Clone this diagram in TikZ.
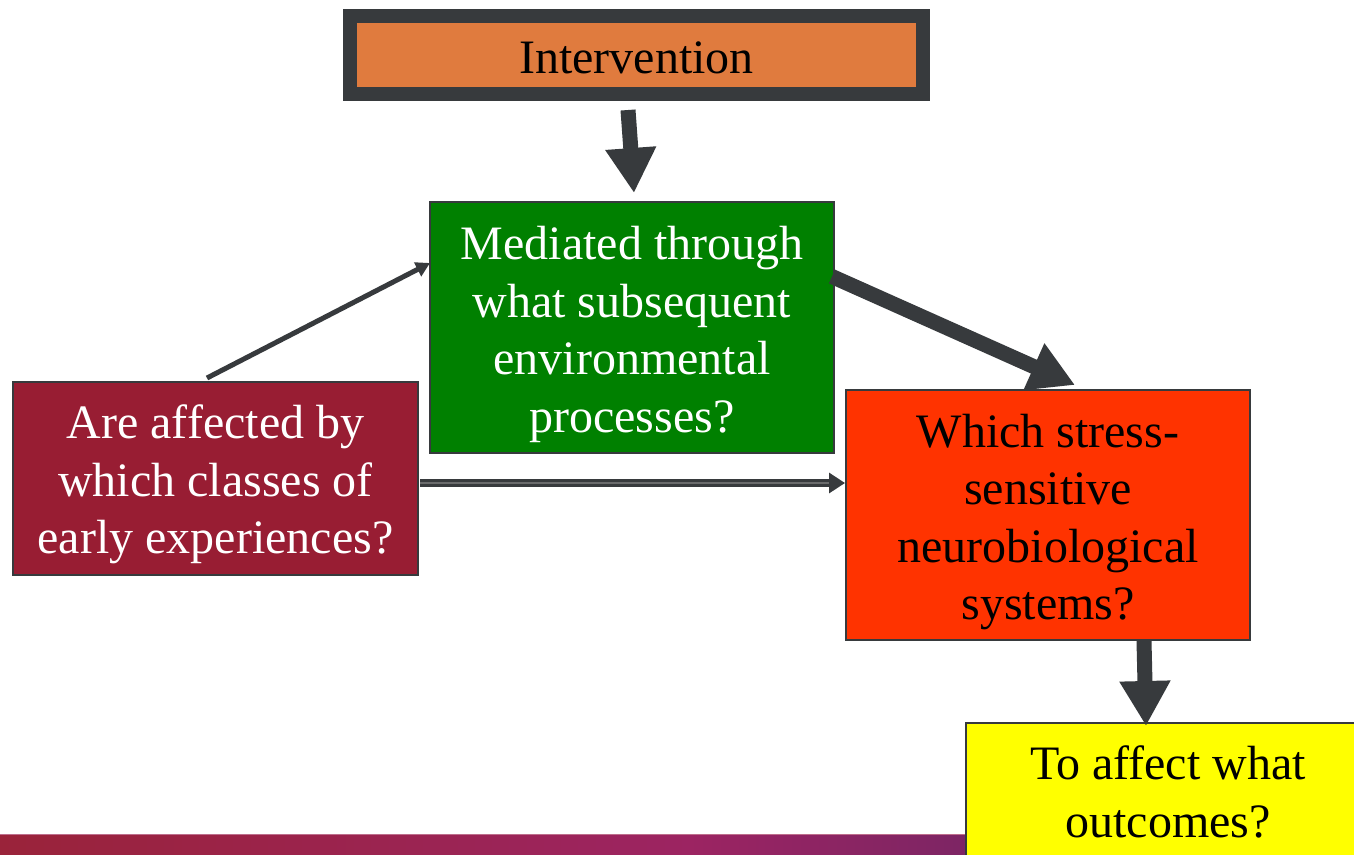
\documentclass[tikz,border=0pt]{standalone}
\usepackage{fontspec}
\setmainfont{Liberation Serif}
\usetikzlibrary{arrows.meta,calc}
\definecolor{dark}{RGB}{55,58,61}
\definecolor{orangebox}{RGB}{224,123,62}
\definecolor{greenbox}{RGB}{0,128,0}
\definecolor{maroonbox}{RGB}{152,29,51}
\definecolor{redbox}{RGB}{255,51,0}
\definecolor{yellowbox}{RGB}{255,255,0}
\definecolor{barA}{RGB}{154,35,58}
\definecolor{barB}{RGB}{156,36,98}
\definecolor{barC}{RGB}{125,37,100}
\definecolor{barline}{RGB}{190,110,140}
\newcommand{\lowtext}[2]{\raisebox{-#1}[\height][\depth]{\begin{tabular}{@{}c@{}}#2\end{tabular}}}
\tikzset{
  box/.style={draw=dark, line width=2pt, inner sep=0pt, align=center,
    font=\fontsize{48}{57.5}\selectfont},
  bigarrow/.style={draw=dark, line width=15pt, -{Triangle[width=48pt,length=45pt]}},
  thinarrow/.style={draw=dark, line width=5pt, -{Triangle[width=15pt,length=14pt]}},
  dblarrow/.style={draw=dark, line width=3.2pt, double=gray!70!dark, double distance=1.2pt,
    -{Triangle[width=20pt,length=16pt]}},
}
\begin{document}
\begin{tikzpicture}[x=1pt,y=-1pt]
\useasboundingbox (0,0) rectangle (1354,854);
\clip (0,0) rectangle (1354,854);
\fill[white] (0,0) rectangle (1354,854);
% bottom gradient bar
\shade[left color=barA, right color=barB] (0,834) rectangle (690,854);
\shade[left color=barB, right color=barC] (689,834) rectangle (966,854);
\draw[barline, line width=1pt] (0,834) -- (966,834);
% nodes
\node[box, line width=14pt, fill=orangebox, minimum width=573pt, minimum height=78pt] (interv) at (636.5,55)
  {\lowtext{7pt}{Intervention}};
\node[box, fill=greenbox, text=white, minimum width=404pt, minimum height=251pt] (green) at (632,327.5)
  {\lowtext{7pt}{Mediated through\\what subsequent\\environmental\\processes?}};
\node[box, fill=maroonbox, text=white, minimum width=405pt, minimum height=193pt] (maroon) at (215.5,478.5)
  {\lowtext{6pt}{Are affected by\\which classes of\\early experiences?}};
\node[box, fill=redbox, text=black, minimum width=404pt, minimum height=250pt] (red) at (1048,515)
  {\lowtext{7pt}{Which stress-\\sensitive\\neurobiological\\systems?}};
\node[box, fill=yellowbox, text=black, minimum width=404pt, minimum height=140pt] (yellow) at (1168,793)
  {\lowtext{4pt}{To affect what\\outcomes?}};
% connectors
\draw[bigarrow] ($(interv.south)+(-8.5,9)$) -- ($(green.north)+(2,-8)$);
\draw[thinarrow] ($(maroon.north)+(-8.5,-3)$) -- ($(green.west)+(1,-64.5)$);
\draw[bigarrow] ($(green.east)+(-3,-51)$) -- ($(red.north)+(27,-4)$);
\draw[dblarrow] ($(maroon.east)+(1,4.5)$) -- ($(red.west)+(0,-32)$);
\draw[bigarrow] ($(red.south)+(96,0)$) -- ($(yellow.north)+(-22,4)$);
\end{tikzpicture}
\end{document}
